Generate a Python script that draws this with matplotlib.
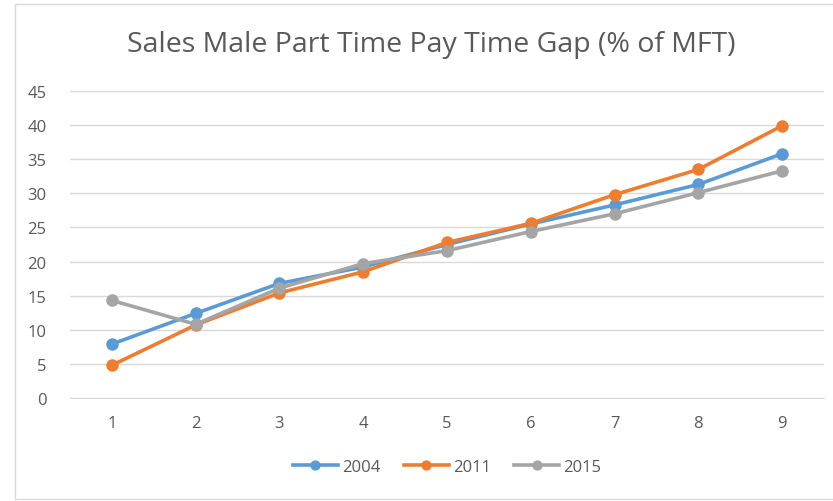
import matplotlib.pyplot as plt
from matplotlib.patches import Rectangle

categories = [1, 2, 3, 4, 5, 6, 7, 8, 9]
series_names = ["2004", "2011", "2015"]
gap_2004 = [7.9, 12.4, 16.8, 19.2, 22.5, 25.5, 28.3, 31.3, 35.8]
gap_2011 = [4.8, 10.7, 15.4, 18.5, 22.8, 25.6, 29.8, 33.5, 39.9]
gap_2015 = [14.3, 10.8, 16.1, 19.7, 21.6, 24.4, 27.0, 30.1, 33.3]
y_ticks = [0, 5, 10, 15, 20, 25, 30, 35, 40, 45]

COLORS = ["#5b9bd5", "#ed7d31", "#a5a5a5"]
TEXT = "#595959"
FONT = "Open Sans"

fig = plt.figure(figsize=(8.33, 5.02), dpi=100)
fig.patches.append(
    Rectangle((15 / 833, 0.004), 1.0, 1 - 5 / 502 - 0.004,
              transform=fig.transFigure, facecolor="white",
              edgecolor="#d9d9d9", linewidth=1.0, zorder=-1)
)

ax = fig.add_axes([70 / 833, 1 - 399 / 502, (824 - 70) / 833, (399 - 92) / 502])
ax.set_xlim(0.5, 9.5)
ax.set_ylim(0, 45)

for vals, name, col in zip([gap_2004, gap_2011, gap_2015], series_names, COLORS):
    ax.plot(categories, vals, color=col, linewidth=2.6, marker="o",
            markersize=8, label=name, zorder=3)

ax.set_yticks(y_ticks)
ax.set_xticks(categories)
ax.grid(axis="y", color="#d9d9d9", linewidth=1.0, zorder=0)
for side in ["top", "right", "left"]:
    ax.spines[side].set_visible(False)
ax.spines["bottom"].set_color("#d9d9d9")
ax.tick_params(length=0, labelcolor=TEXT, labelsize=12)
ax.tick_params(axis="y", pad=17)
ax.tick_params(axis="x", pad=12)
for lbl in ax.get_xticklabels() + ax.get_yticklabels():
    lbl.set_fontfamily(FONT)

fig.text(0.518, 1 - 45 / 502, "Sales Male Part Time Pay Time Gap (% of MFT)",
         ha="center", va="center", fontsize=20.5, color=TEXT, fontfamily=FONT)

leg = ax.legend(loc="center", bbox_to_anchor=(0.5, (399 - 468) / 307), ncol=3,
                frameon=False, handlelength=2.7, columnspacing=1.4,
                handletextpad=0.25, markerscale=0.8,
                prop={"family": FONT, "size": 12})
for t in leg.get_texts():
    t.set_color(TEXT)

fig.savefig("out.png", dpi=100)
